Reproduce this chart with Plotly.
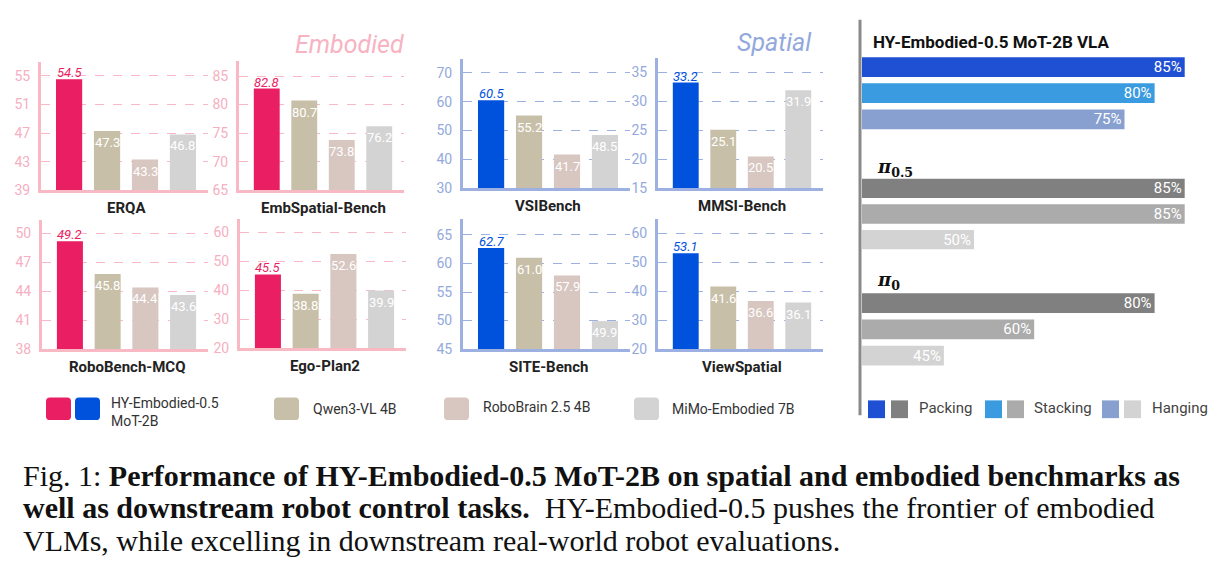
import plotly.graph_objects as go

W, H = 1223, 579

# ---------------- data ----------------
models = ["HY-Embodied-0.5 MoT-2B", "Qwen3-VL 4B", "RoboBrain 2.5 4B", "MiMo-Embodied 7B"]
benchmarks = ["ERQA", "EmbSpatial-Bench", "VSIBench", "MMSI-Bench",
              "RoboBench-MCQ", "Ego-Plan2", "SITE-Bench", "ViewSpatial"]
erqa = [54.5, 47.3, 43.3, 46.8]
embspatial = [82.8, 80.7, 73.8, 76.2]
vsibench = [60.5, 55.2, 41.7, 48.5]
mmsi = [33.2, 25.1, 20.5, 31.9]
robobench = [49.2, 45.8, 44.4, 43.6]
egoplan2 = [45.5, 38.8, 52.6, 39.9]
sitebench = [62.7, 61.0, 57.9, 49.9]
viewspatial = [53.1, 41.6, 36.6, 36.1]
values = [erqa, embspatial, vsibench, mmsi, robobench, egoplan2, sitebench, viewspatial]

ticks_erqa = [39, 43, 47, 51, 55]
ticks_emb = [65, 70, 75, 80, 85]
ticks_vsi = [30, 40, 50, 60, 70]
ticks_mmsi = [15, 20, 25, 30, 35]
ticks_robo = [38, 41, 44, 47, 50]
ticks_ego = [20, 30, 40, 50, 60]
ticks_site = [45, 50, 55, 60, 65]
ticks_view = [20, 30, 40, 50, 60]
ticks = [ticks_erqa, ticks_emb, ticks_vsi, ticks_mmsi, ticks_robo, ticks_ego, ticks_site, ticks_view]
yranges = [[39, 56.9], [65, 87.6], [30, 74.7], [15, 37.4],
           [38, 51.4], [20, 64.7], [45, 67.8], [20, 65.0]]
groups = ["emb", "emb", "spa", "spa", "emb", "emb", "spa", "spa"]

tasks = ["Packing", "Stacking", "Hanging"]
vla_names = ["HY-Embodied-0.5 MoT-2B VLA", "π0.5", "π0"]
hy_vla = [85, 80, 75]
pi05 = [85, 85, 50]
pi0 = [80, 60, 45]
vla_values = [hy_vla, pi05, pi0]

# ---------------- styles ----------------
PINK = "#E91E63"
BLUE = "#0052DD"
QWEN = "#C8BFA8"
ROBO = "#D8C6C1"
MIMO = "#D3D3D3"
PINK_AX = "#F8B9C5"
PINK_TK = "#F6AFBF"
BLUE_AX = "#9CB0E2"
BLUE_TK = "#93A9DD"
FONT = "Roboto"

def px(x):
    return x / W

def py(y):
    return 1 - y / H

# panel boxes: left, right, top, bottom (pixels)
boxes = [(41, 208, 63, 193), (239, 404, 62, 193), (463, 630, 60, 191), (658, 823, 59, 191),
         (42, 208, 223, 354), (240, 406, 222, 353), (463, 630, 222, 354), (658, 823, 222, 354)]

fig = go.Figure()
layout = {}
annotations = []
shapes = []

for i in range(8):
    n = i + 1
    xa = "x" if n == 1 else f"x{n}"
    ya = "y" if n == 1 else f"y{n}"
    l, r, t, b = boxes[i]
    hy = PINK if groups[i] == "emb" else BLUE
    axc = PINK_AX if groups[i] == "emb" else BLUE_AX
    tkc = PINK_TK if groups[i] == "emb" else BLUE_TK
    fig.add_trace(go.Bar(x=models, y=[v - yranges[i][0] for v in values[i]],
                         base=yranges[i][0], xaxis=xa, yaxis=ya,
                         marker=dict(color=[hy, QWEN, ROBO, MIMO], line=dict(width=0)),
                         width=0.69, showlegend=False, hoverinfo="skip"))
    layout[f"xaxis{n if n > 1 else ''}"] = dict(
        domain=[px(l), px(r)], anchor=ya, type="category", range=[-0.74, 3.66],
        showticklabels=False, showline=True, linecolor=axc, linewidth=3,
        showgrid=False, zeroline=False, ticks="", fixedrange=True)
    layout[f"yaxis{n if n > 1 else ''}"] = dict(
        domain=[py(b), py(t)], anchor=xa, range=yranges[i], tickvals=ticks[i],
        showline=True, linecolor=axc, linewidth=3, showgrid=True, gridcolor=axc,
        griddash="dash", gridwidth=1.3, zeroline=False, ticks="",
        tickfont=dict(color=tkc, size=14, family=FONT), ticklabelstandoff=5)
    # value labels
    for j, v in enumerate(values[i]):
        if j == 0:
            annotations.append(dict(x=models[j], y=v, xref=xa, yref=ya, text=f"<i>{v:.1f}</i>",
                                    showarrow=False, yanchor="bottom", yshift=-3,
                                    font=dict(color=hy, size=13, family=FONT)))
        else:
            annotations.append(dict(x=models[j], y=v, xref=xa, yref=ya, text=f"{v:.1f}",
                                    showarrow=False, yanchor="top", yshift=-2,
                                    font=dict(color="white", size=13, family=FONT)))
    # benchmark label
    annotations.append(dict(x=1.5, xref=xa, y=py(b + 18), yref="paper", text=f"<b>{benchmarks[i]}</b>",
                            showarrow=False, yanchor="middle",
                            font=dict(color="#222222", size=15, family=FONT)))

# section titles
annotations.append(dict(x=px(406), y=py(45), xref="paper", yref="paper", xanchor="right",
                        yanchor="middle", text="<i>Embodied</i>", showarrow=False,
                        font=dict(color="#F7B3C2", size=25, family=FONT)))
annotations.append(dict(x=px(814), y=py(43), xref="paper", yref="paper", xanchor="right",
                        yanchor="middle", text="<i>Spatial</i>", showarrow=False,
                        font=dict(color="#93A9DD", size=25, family=FONT)))

# ---------------- right panel ----------------
vla_colors = [["#1F50D4", "#3A9BE0", "#87A0D0"],
              ["#808080", "#ABABAB", "#D3D3D3"],
              ["#808080", "#ABABAB", "#D3D3D3"]]
vla_boxes = [(54.75, 134.25), (178, 256), (294, 374)]
for k in range(3):
    n = 9 + k
    xa, ya = f"x{n}", f"y{n}"
    t, b = vla_boxes[k]
    fig.add_trace(go.Bar(y=tasks, x=vla_values[k], orientation="h", xaxis=xa, yaxis=ya,
                         marker=dict(color=vla_colors[k], line=dict(width=0)), width=0.755,
                         text=[f"{v}%" for v in vla_values[k]], textposition="inside",
                         insidetextanchor="end", constraintext="none",
                         textfont=dict(color="white", size=15, family=FONT),
                         showlegend=False, hoverinfo="skip"))
    layout[f"xaxis{n}"] = dict(domain=[px(862), px(1210)], anchor=ya, range=[31.4, 89.2],
                               visible=False, fixedrange=True)
    layout[f"yaxis{n}"] = dict(domain=[py(b), py(t)], anchor=xa, type="category",
                               categoryorder="array", categoryarray=tasks,
                               autorange="reversed", visible=False)

annotations.append(dict(x=px(871), y=py(43), xref="paper", yref="paper", xanchor="left",
                        yanchor="middle", text="<b>HY-Embodied-0.5 MoT-2B VLA</b>", showarrow=False,
                        font=dict(color="#111111", size=17, family=FONT)))
annotations.append(dict(x=px(875), y=py(170), xref="paper", yref="paper", xanchor="left",
                        yanchor="middle", text="<b><i>π</i><sub>0.5</sub></b>", showarrow=False,
                        font=dict(color="#111111", size=18, family="DejaVu Serif")))
annotations.append(dict(x=px(875), y=py(285), xref="paper", yref="paper", xanchor="left",
                        yanchor="middle", text="<b><i>π</i><sub>0</sub></b>", showarrow=False,
                        font=dict(color="#111111", size=18, family="DejaVu Serif")))

shapes.append(dict(type="line", xref="paper", yref="paper", x0=px(860), x1=px(860),
                   y0=py(20), y1=py(421), line=dict(color="#8A8A8A", width=3)))

# right legend
rleg = [(868, 891, 917, "Packing"), (985, 1007, 1032, "Stacking"), (1102, 1124, 1150, "Hanging")]
for k, (sa, sb, tx, lab) in enumerate(rleg):
    for sx, col in ((sa, vla_colors[0][k]), (sb, vla_colors[1][k])):
        shapes.append(dict(type="rect", xref="paper", yref="paper", x0=px(sx), x1=px(sx + 17),
                           y0=py(424), y1=py(406), fillcolor=col, line=dict(width=0)))
    annotations.append(dict(x=px(tx), y=py(414), xref="paper", yref="paper", xanchor="left",
                            yanchor="middle", text=lab, showarrow=False,
                            font=dict(color="#444444", size=15, family=FONT)))

# left legend
def rrect(x0, y0, x1, y1, r=4):
    X0, X1 = px(x0), px(x1)
    Y0, Y1 = py(y0), py(y1)
    rx, ry = r / W, r / H
    return (f"M{X0+rx},{Y0} L{X1-rx},{Y0} Q{X1},{Y0} {X1},{Y0-ry} L{X1},{Y1+ry} Q{X1},{Y1} {X1-rx},{Y1} "
            f"L{X0+rx},{Y1} Q{X0},{Y1} {X0},{Y1+ry} L{X0},{Y0-ry} Q{X0},{Y0} {X0+rx},{Y0} Z")

lleg = [(46, PINK), (75, BLUE), (274, QWEN), (444, ROBO), (634, MIMO)]
for sx, col in lleg:
    shapes.append(dict(type="path", xref="paper", yref="paper", path=rrect(sx, 403, sx + 25, 426),
                       fillcolor=col, line=dict(width=0)))
ltexts = [(109, "HY-Embodied-0.5<br>MoT-2B", 418), (311, models[1], 415),
          (481, models[2], 413), (670, models[3], 415)]
for tx, lab, ty in ltexts:
    annotations.append(dict(x=px(tx), y=py(ty), xref="paper", yref="paper", xanchor="left",
                            yanchor="middle", align="left", text=lab, showarrow=False,
                            font=dict(color="#333333", size=14, family=FONT)))

# caption
CAP = "Liberation Serif"
cap_lines = [
    "Fig. 1: <b>Performance of HY-Embodied-0.5 MoT-2B on spatial and embodied benchmarks as</b>",
    "<b>well as downstream robot control tasks.</b>  HY-Embodied-0.5 pushes the frontier of embodied",
    "VLMs, while excelling in downstream real-world robot evaluations.",
]
for k, line in enumerate(cap_lines):
    annotations.append(dict(x=px(21), y=py(482 + 33 * k), xref="paper", yref="paper",
                            xanchor="left", yanchor="middle", text=line, showarrow=False,
                            font=dict(color="#111111", size=30, family=CAP)))

fig.update_layout(**layout)
fig.update_layout(width=W, height=H, margin=dict(l=0, r=0, t=0, b=0),
                  paper_bgcolor="white", plot_bgcolor="rgba(0,0,0,0)",
                  annotations=annotations, shapes=shapes, showlegend=False,
                  font=dict(family=FONT))

fig.write_html("out.html", config={"displayModeBar": False})
